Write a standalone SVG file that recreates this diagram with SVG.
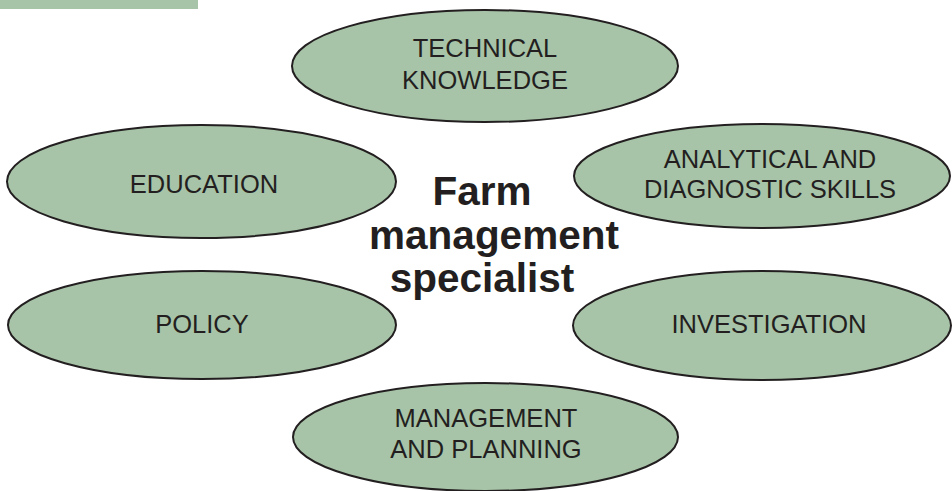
<svg xmlns="http://www.w3.org/2000/svg" width="952" height="491" viewBox="0 0 952 491">
<style>
.node ellipse{fill:#a8c4a8;stroke:#231f20;stroke-width:2}
.lbl{font-family:"Liberation Sans",Arial,sans-serif;font-size:25.5px;fill:#231f20;text-anchor:middle}
.center{font-family:"Liberation Sans",Arial,sans-serif;font-size:40.5px;font-weight:bold;fill:#231f20;text-anchor:middle}
</style>
<rect x="0" y="0" width="198" height="9" fill="#a8c4a8"/>
<g id="connectors"></g>
<g id="technical" class="node">
<ellipse cx="485" cy="66" rx="193" ry="56"/>
<text class="lbl" x="485" y="57">TECHNICAL</text>
<text class="lbl" x="485" y="89">KNOWLEDGE</text>
</g>
<g id="analytical" class="node">
<ellipse cx="762" cy="176" rx="188" ry="52"/>
<text class="lbl" x="770" y="168">ANALYTICAL AND</text>
<text class="lbl" x="770" y="198">DIAGNOSTIC SKILLS</text>
</g>
<g id="education" class="node">
<ellipse cx="201.5" cy="181.5" rx="194.5" ry="56.5"/>
<text class="lbl" x="204" y="193">EDUCATION</text>
</g>
<g id="policy" class="node">
<ellipse cx="202" cy="325" rx="194" ry="54"/>
<text class="lbl" x="202" y="333">POLICY</text>
</g>
<g id="investigation" class="node">
<ellipse cx="762" cy="325.5" rx="189" ry="54.5"/>
<text class="lbl" x="769" y="333">INVESTIGATION</text>
</g>
<g id="management" class="node">
<ellipse cx="485.5" cy="437" rx="192.5" ry="54"/>
<text class="lbl" x="486" y="427">MANAGEMENT</text>
<text class="lbl" x="486" y="458">AND PLANNING</text>
</g>
<g id="center">
<text class="center" x="482" y="205">Farm</text>
<text class="center" x="494" y="249">management</text>
<text class="center" x="482" y="292">specialist</text>
</g>
</svg>
